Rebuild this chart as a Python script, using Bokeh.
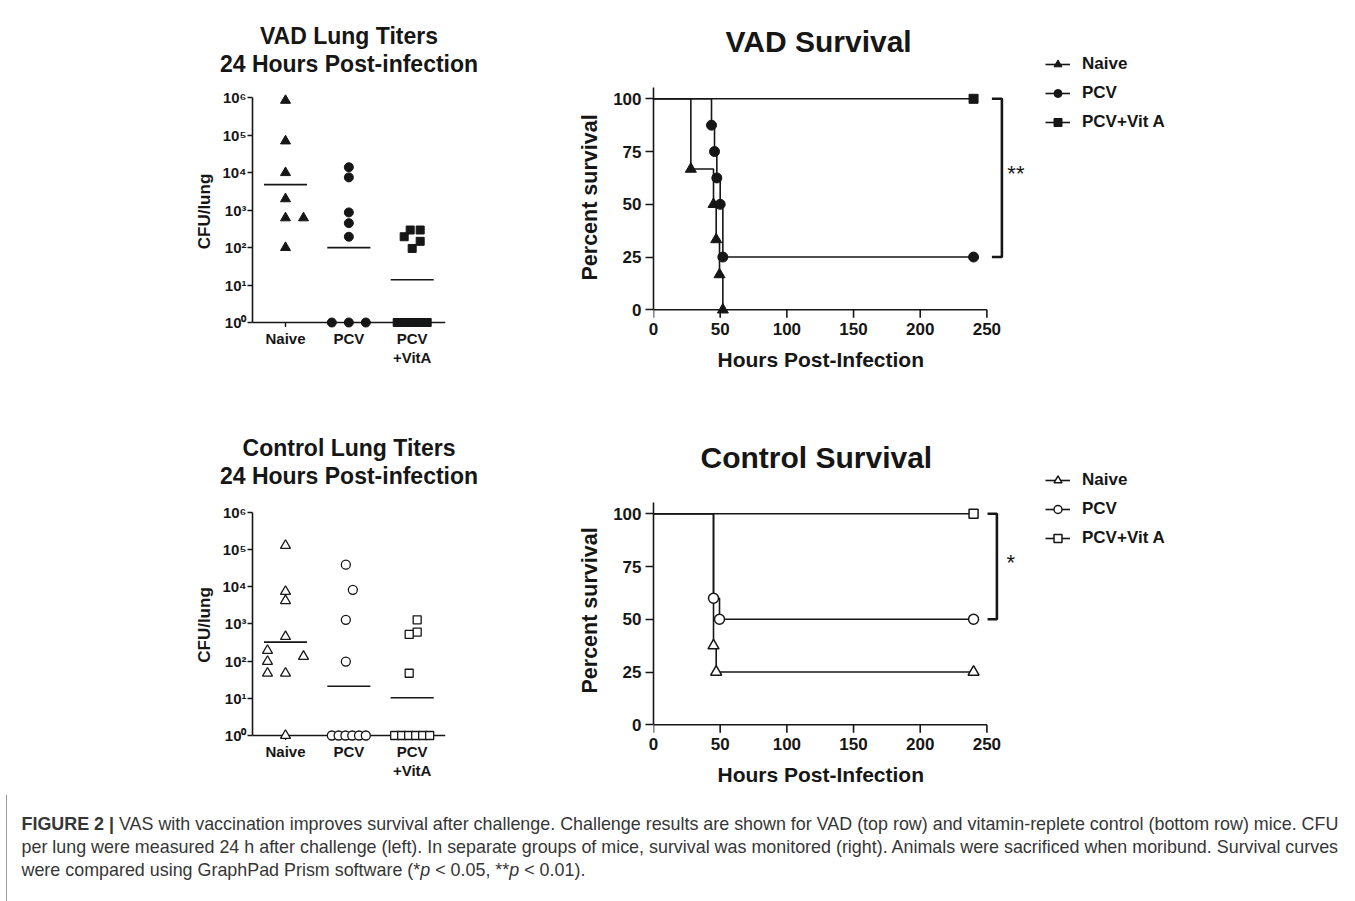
import math
from bokeh.plotting import figure
from bokeh.models import Range1d, FixedTicker, Title, Legend, LegendItem, Div
from bokeh.layouts import column, row
from bokeh.embed import file_html
from bokeh.resources import INLINE
from bokeh.core.properties import value

FONT = "Liberation Sans"
INK = "#161616"

# ---------------- data ----------------
GROUPS = ["Naive", "PCV", "PCV+Vit A"]
CATEGORY_LABELS = ["Naive", "PCV", "PCV\n+VitA"]
LOG_TICKS = [1, 10, 100, 1000, 10000, 100000, 1000000]
LOG_TICK_LABELS = ["10⁰", "10¹", "10²", "10³", "10⁴", "10⁵", "10⁶"]
SURV_X_TICKS = [0, 50, 100, 150, 200, 250]
SURV_Y_TICKS = [0, 25, 50, 75, 100]

# VAD lung titers, CFU/lung 24 h post-infection (undetectable plotted at 10^0)
VAD_NAIVE = [8.5e5, 7.0e4, 1.0e4, 2.0e3, 620, 620, 100]
VAD_PCV = [1.4e4, 7.5e3, 870, 450, 195, 1, 1, 1]
VAD_VITA = [295, 295, 195, 147, 95, 1, 1, 1, 1, 1]
VAD_MEANS = [4800, 100, 13.8]

# Control lung titers
CTL_NAIVE = [1.27e5, 7.4e3, 4.2e3, 455, 192, 97, 47, 47, 133, 1]
CTL_PCV = [3.9e4, 8.2e3, 1.28e3, 97, 1, 1, 1, 1, 1, 1]
CTL_VITA = [1.28e3, 600, 520, 47, 1, 1, 1, 1, 1, 1]
CTL_MEANS = [322, 21, 10.3]

# horizontal spread of overlapping points (pixels, scatter-dot layout)
VAD_NAIVE_DX = [0, 0, 0, 0, 0, 18, 0]
VAD_PCV_DX = [0, 0, 0, 0, 0, -17, 0, 17]
VAD_VITA_DX = [-2, 8, -8, 8, 0, -15, -7.5, 0, 7.5, 15]
CTL_NAIVE_DX = [0, 0, 0, 0, -18, -18, -18, 0, 18, 0]
CTL_PCV_DX = [-3, 4, -3, -3, -17, -10.2, -3.4, 3.4, 10.2, 17]
CTL_VITA_DX = [5, 5, -3, -3, -17.5, -10.5, -3.5, 3.5, 10.5, 17.5]

# Kaplan-Meier survival (hours, percent)
VAD_NAIVE_T = [0, 28, 45, 47, 49.5, 52]
VAD_NAIVE_S = [100, 66.7, 50, 33.3, 16.7, 0]
VAD_PCV_T = [0, 43.5, 45.75, 47.5, 50, 52, 240]
VAD_PCV_S = [100, 87.5, 75, 62.5, 50, 25, 25]
VAD_VITA_T = [0, 240]
VAD_VITA_S = [100, 100]

CTL_NAIVE_T = [0, 45, 47, 240]
CTL_NAIVE_S = [100, 37.5, 25, 25]
CTL_PCV_T = [0, 45, 49.5, 240]
CTL_PCV_S = [100, 60, 50, 50]
CTL_VITA_T = [0, 240]
CTL_VITA_S = [100, 100]

VAD_SIG = "**"
CTL_SIG = "*"

CAPTION = ('<b>FIGURE 2 |</b> VAS with vaccination improves survival after challenge. '
           'Challenge results are shown for VAD (top row) and vitamin-replete control (bottom row) mice. CFU<br>'
           'per lung were measured 24 h after challenge (left). In separate groups of mice, survival was '
           'monitored (right). Animals were sacrificed when moribund. Survival curves<br>'
           'were compared using GraphPad Prism software (*<i>p</i> &lt; 0.05, **<i>p</i> &lt; 0.01).')

MARKERS = ["triangle", "circle", "square"]


def unalign(p):
    if "frame_align" in p.properties():
        p.frame_align = False


def style_axis(ax, label_size, tick_out):
    ax.axis_line_color = INK
    ax.axis_line_width = 1.6
    ax.major_tick_line_color = INK
    ax.major_tick_line_width = 1.6
    ax.major_tick_out = tick_out
    ax.major_tick_in = 0
    ax.minor_tick_line_color = None
    ax.major_label_text_font = FONT
    ax.major_label_text_font_style = "bold"
    ax.major_label_text_font_size = label_size
    ax.major_label_text_color = INK
    ax.axis_label_text_font = FONT
    ax.axis_label_text_font_style = "bold"
    ax.axis_label_text_color = INK


def lung_panel(t1, t2, values, offsets, means, open_marks, mb_top, frame_h, total_h,
               log_lo, log_hi, t2_standoff, t1_standoff):
    W, ML, FW = 520, 252, 193
    x_lo, x_hi = 0.479, 3.526
    p = figure(width=W, height=total_h, output_backend="svg", toolbar_location=None,
               title=None, x_range=Range1d(x_lo, x_hi),
               y_range=Range1d(10 ** log_lo, 10 ** log_hi), y_axis_type="log",
               min_border_left=ML, min_border_right=W - ML - FW,
               min_border_top=mb_top, min_border_bottom=total_h - mb_top - frame_h)
    unalign(p)
    p.outline_line_color = None
    p.xgrid.visible = False
    p.ygrid.visible = False
    p.add_layout(Title(text=t2, align="center", text_font=FONT, text_font_size="23px",
                       text_font_style="bold", text_color=INK, standoff=t2_standoff), "above")
    p.add_layout(Title(text=t1, align="center", text_font=FONT, text_font_size="23px",
                       text_font_style="bold", text_color=INK, standoff=t1_standoff), "above")
    ppu = FW / (x_hi - x_lo)
    ppd = frame_h / (log_hi - log_lo)
    cats = [1, 2, 3]

    # x axis line at the 10^0 baseline with small category ticks
    p.segment(x0=[x_lo], x1=[x_hi], y0=[LOG_TICKS[0]], y1=[LOG_TICKS[0]],
              line_color=INK, line_width=1.6)
    p.segment(x0=cats, x1=cats, y0=[LOG_TICKS[0]] * 3, y1=[10 ** (-4.5 / ppd)] * 3,
              line_color=INK, line_width=1.4)

    sizes = [10, 9, 8]
    for i, (vals, dxs) in enumerate(zip(values, offsets)):
        xs = [i + 1 + d / ppu for d in dxs]
        p.scatter(xs, vals, marker=MARKERS[i], size=sizes[i],
                  fill_color="white" if open_marks else INK,
                  line_color=INK, line_width=1.3 if open_marks else 1)
    p.segment(x0=[c - 0.34 for c in cats], x1=[c + 0.34 for c in cats],
              y0=means, y1=means, line_color=INK, line_width=1.6)

    yax = p.yaxis[0]
    style_axis(yax, "15px", 5)
    yax.ticker = FixedTicker(ticks=LOG_TICKS)
    yax.major_label_overrides = dict(zip(LOG_TICKS, LOG_TICK_LABELS))
    yax.bounds = (1, 1000000)
    yax.axis_label = "CFU/lung"
    yax.axis_label_text_font_size = "17px"
    yax.axis_label_standoff = 5
    yax.major_label_standoff = 1

    xax = p.xaxis[0]
    style_axis(xax, "15px", 0)
    xax.axis_line_color = None
    xax.major_tick_line_color = None
    xax.ticker = FixedTicker(ticks=cats)
    xax.major_label_overrides = dict(zip(cats, CATEGORY_LABELS))
    xax.major_label_text_line_height = 1.15
    xax.major_label_standoff = 1
    return p


def survival_panel(title, curves, open_marks, mb_top, frame_h, total_h, y_lo,
                   title_offset, title_standoff, bracket_x, sig, sig_dy, ylab_offset):
    W, ML, FW = 835, 133, 547
    ppx = (986.7 - 653.3) / 250.0
    ppy = 2.11
    p = figure(width=W, height=total_h, output_backend="svg", toolbar_location=None,
               title=None, x_range=Range1d(0, FW / ppx),
               y_range=Range1d(y_lo, y_lo + frame_h / ppy),
               min_border_left=ML, min_border_right=W - ML - FW,
               min_border_top=mb_top, min_border_bottom=total_h - mb_top - frame_h)
    unalign(p)
    p.outline_line_color = None
    p.xgrid.visible = False
    p.ygrid.visible = False
    p.add_layout(Title(text=title, align="left", offset=title_offset, text_font=FONT,
                       text_font_size="30px", text_font_style="bold", text_color=INK,
                       standoff=title_standoff), "above")

    # x axis line at 0 % with outward ticks
    p.segment(x0=[SURV_X_TICKS[0]], x1=[SURV_X_TICKS[-1]], y0=[0], y1=[0],
              line_color=INK, line_width=1.6)
    p.segment(x0=SURV_X_TICKS, x1=SURV_X_TICKS, y0=[0] * len(SURV_X_TICKS),
              y1=[-8 / ppy] * len(SURV_X_TICKS), line_color=INK, line_width=1.6)

    sizes = [11, 10, 9]
    items = []
    for i, (t, s) in enumerate(curves):
        lr = p.step(t, s, mode="after", line_color=INK, line_width=1.6)
        sr = p.scatter(t[1:], s[1:], marker=MARKERS[i], size=sizes[i],
                       fill_color="white" if open_marks else INK,
                       line_color=INK, line_width=1.5 if open_marks else 1)
        items.append(LegendItem(label=GROUPS[i], renderers=[lr, sr]))

    top = curves[2][1][-1]
    bot = curves[1][1][-1]
    x0, x1 = bracket_x
    p.line([x0, x1, x1, x0], [top, top, bot, bot], line_color=INK, line_width=2.6)
    p.text(x=[x1 + 10.5], y=[(top + bot) / 2 + sig_dy], text=[sig],
           text_font=value(FONT), text_font_size="22px", text_color=INK,
           text_align="center", text_baseline="middle")

    leg_h = 3 * 20 + 2 * 9
    legend = Legend(items=items, location=(392, frame_h - leg_h), padding=0, spacing=9,
                    glyph_height=20, glyph_width=25, label_height=20, label_standoff=12,
                    label_text_font=FONT, label_text_font_size="17px",
                    label_text_font_style="bold", label_text_color=INK,
                    border_line_color=None, background_fill_alpha=0, margin=0)
    p.add_layout(legend)

    xax = p.xaxis[0]
    style_axis(xax, "17px", 0)
    xax.axis_line_color = None
    xax.major_tick_line_color = None
    xax.ticker = FixedTicker(ticks=SURV_X_TICKS)
    xax.major_label_standoff = 2

    yax = p.yaxis[0]
    style_axis(yax, "17px", 8)
    yax.ticker = FixedTicker(ticks=SURV_Y_TICKS)
    yax.bounds = (0, 105.5)
    yax.major_label_standoff = 4

    # axis titles, positioned along the drawn axis extents
    p.add_layout(Title(text="Hours Post-Infection", align="left", offset=64, text_font=FONT,
                       text_font_size="21px", text_font_style="bold", text_color=INK,
                       standoff=17), "below")
    p.add_layout(Title(text="Percent survival", align="left", offset=ylab_offset, text_font=FONT,
                       text_font_size="21.5px", text_font_style="bold", text_color=INK,
                       standoff=18), "left")
    return p


R1, R2 = 415, 380

pA = lung_panel("VAD Lung Titers", "24 Hours Post-infection",
                [VAD_NAIVE, VAD_PCV, VAD_VITA], [VAD_NAIVE_DX, VAD_PCV_DX, VAD_VITA_DX],
                VAD_MEANS, False, 94, 234, R1, -0.160, 6.088, 36, -37)
pB = survival_panel("VAD Survival",
                    [(VAD_NAIVE_T, VAD_NAIVE_S), (VAD_PCV_T, VAD_PCV_S), (VAD_VITA_T, VAD_VITA_S)],
                    False, 54, 266, R1, -5.07, 72, -6, (253.75, 261.25), VAD_SIG, 2, 40)
pC = lung_panel("Control Lung Titers", "24 Hours Post-infection",
                [CTL_NAIVE, CTL_PCV, CTL_VITA], [CTL_NAIVE_DX, CTL_PCV_DX, CTL_VITA_DX],
                CTL_MEANS, True, 93, 233, R2, -0.161, 6.099, 39, -38)
pD = survival_panel("Control Survival",
                    [(CTL_NAIVE_T, CTL_NAIVE_S), (CTL_PCV_T, CTL_PCV_S), (CTL_VITA_T, CTL_VITA_S)],
                    True, 55, 265, R2, -5.07, 47, -6, (250.5, 257.5), CTL_SIG, 2, 42)

caption = Div(text=CAPTION, width=1349, height=106, margin=(0, 0, 0, 6),
              styles={"font-family": "'Liberation Sans', Arial, sans-serif",
                      "font-size": "17.9px", "line-height": "23px", "color": "#363636",
                      "white-space": "nowrap", "border-left": "1px solid #9a9a9a",
                      "padding-left": "14.5px", "padding-top": "18px", "box-sizing": "border-box",
                      "overflow": "hidden", "width": "1349px", "height": "106px"})

layout = column(row(pA, pB, spacing=0), row(pC, pD, spacing=0), caption, spacing=0)

with open("out.html", "w") as f:
    f.write(file_html(layout, INLINE))
